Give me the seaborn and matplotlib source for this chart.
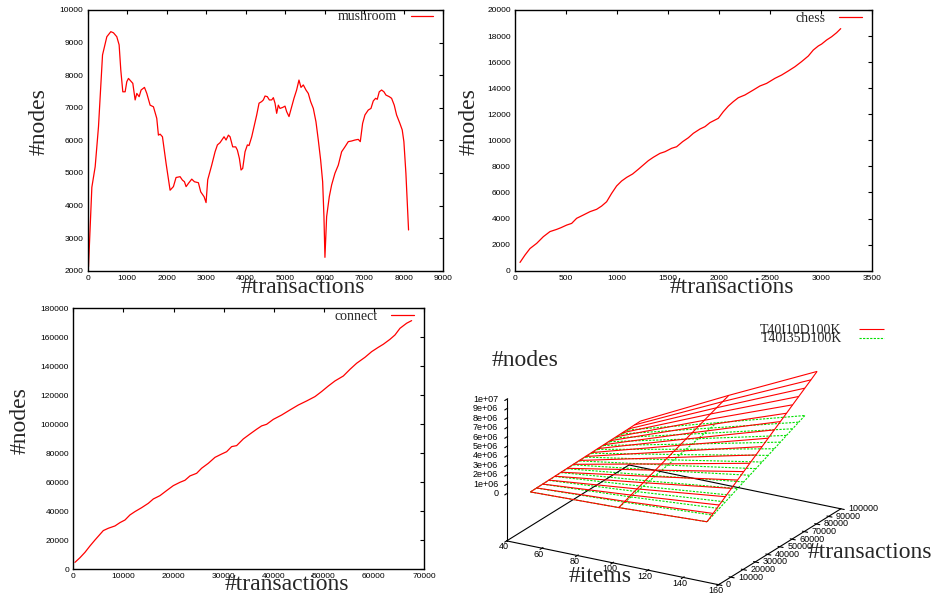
import numpy as np
import matplotlib
matplotlib.use("Agg")
import matplotlib.pyplot as plt
import seaborn as sns
from matplotlib.ticker import NullFormatter

# mushroom: #transactions vs #nodes
mushroom_tx = [25, 110, 194, 278, 380, 489, 590, 657, 741, 800,
               842, 893, 952, 994, 1036, 1146, 1205, 1247, 1306, 1356,
               1441, 1500, 1584, 1668, 1752, 1794, 1837, 1896, 1988, 2089,
               2173, 2240, 2342, 2401, 2452, 2494, 2553, 2637, 2705, 2805,
               2864, 2949, 2999, 3041, 3142, 3227, 3286, 3353, 3454, 3505,
               3564, 3606, 3673, 3749, 3791, 3842, 3884, 3926, 3985, 4044,
               4086, 4154, 4212, 4280, 4339, 4406, 4448, 4491, 4549, 4600,
               4659, 4701, 4743, 4785, 4827, 4869, 4937, 4996, 5038, 5097,
               5164, 5223, 5290, 5349, 5400, 5459, 5526, 5585, 5644, 5712,
               5779, 5838, 5897, 5948, 5981, 6006, 6049, 6116, 6175, 6259,
               6344, 6428, 6512, 6596, 6681, 6765, 6849, 6900, 6959, 7018,
               7102, 7170, 7229, 7288, 7330, 7380, 7439, 7498, 7549, 7633,
               7692, 7759, 7818, 7902, 7961, 8003, 8054, 8088, 8121]
mushroom_nodes = [2120, 4560, 5190, 6420, 8620, 9180, 9335, 9300, 9180, 8930,
                  8160, 7490, 7490, 7800, 7900, 7750, 7240, 7440, 7340, 7545,
                  7625, 7440, 7080, 7030, 6675, 6160, 6190, 6110, 5290, 4470,
                  4580, 4860, 4885, 4780, 4730, 4580, 4680, 4810, 4730, 4700,
                  4420, 4270, 4090, 4790, 5240, 5650, 5860, 5930, 6110, 6010,
                  6160, 6110, 5800, 5800, 5700, 5445, 5090, 5140, 5650, 5860,
                  5840, 6110, 6420, 6780, 7140, 7190, 7240, 7360, 7340, 7240,
                  7240, 7310, 7140, 6830, 7080, 6980, 7010, 7050, 6880, 6730,
                  7030, 7290, 7545, 7850, 7625, 7700, 7545, 7440, 7190, 6980,
                  6570, 6010, 5400, 4730, 3660, 2410, 3660, 4270, 4630, 4990,
                  5240, 5650, 5800, 5960, 5980, 6010, 6030, 5960, 6520, 6780,
                  6930, 6980, 7210, 7290, 7260, 7490, 7545, 7490, 7390, 7340,
                  7290, 7080, 6780, 6520, 6320, 5960, 4990, 4070, 3250]

# chess
chess_tx = [49, 98, 147, 213, 278, 343, 409, 451, 507, 556,
            605, 670, 736, 801, 850, 899, 948, 997, 1046, 1096,
            1154, 1210, 1259, 1308, 1357, 1422, 1472, 1537, 1586, 1645,
            1701, 1750, 1815, 1864, 1913, 1995, 2044, 2093, 2142, 2191,
            2256, 2338, 2403, 2469, 2551, 2616, 2681, 2747, 2812, 2878,
            2927, 2976, 3009, 3058, 3107, 3156, 3196]
chess_nodes = [635, 1200, 1700, 2100, 2610, 3000, 3170, 3300, 3500, 3630,
               4020, 4270, 4530, 4710, 4960, 5290, 5930, 6500, 6880, 7160,
               7420, 7780, 8110, 8440, 8700, 9000, 9130, 9390, 9510, 9900,
               10200, 10540, 10870, 11050, 11360, 11690, 12200, 12630, 12970, 13270,
               13480, 13860, 14170, 14370, 14760, 15010, 15320, 15650, 16040, 16470,
               16930, 17240, 17390, 17700, 17950, 18260, 18570]

# connect
connect_tx = [333, 1331, 2329, 3327, 4325, 5323, 5988, 6986, 8317, 9315,
              10313, 11311, 12309, 13640, 14970, 15968, 17299, 18629, 19960, 21291,
              22289, 23287, 24617, 25615, 26946, 28277, 29607, 30605, 31603, 32601,
              33932, 35263, 36593, 37591, 38589, 39920, 41583, 43247, 44910, 46574,
              48237, 49567, 50898, 52229, 53892, 55223, 56554, 58217, 59548, 60878,
              61876, 63207, 64205, 65203, 66534, 67532]
connect_nodes = [4800, 8000, 11700, 16100, 20200, 24100, 26700, 28300, 29900, 32200,
                 34000, 37500, 39800, 42500, 45500, 48500, 50800, 54300, 57700, 60000,
                 61400, 64400, 66200, 69700, 73100, 77200, 79500, 81100, 84600, 85300,
                 89900, 93300, 96600, 98900, 100000, 103400, 106400, 109900, 113300, 116100,
                 119100, 122600, 126400, 129900, 133300, 137900, 142100, 146200, 150100, 153100,
                 155200, 158600, 161600, 166200, 169700, 171500]

# synthetic data surfaces: #items x #transactions -> #nodes
surf_items = [50, 100, 150]
t10_tx = [5000, 10000, 15000, 20000, 25000, 30000, 35000, 40000, 45000, 50000,
          55000, 60000, 65000, 70000, 75000, 80000, 85000, 90000, 95000]
t10_nodes_50 = [0.17e6, 0.19e6, 0.20e6, 0.22e6, 0.23e6, 0.25e6, 0.26e6, 0.28e6, 0.29e6, 0.31e6,
                0.32e6, 0.34e6, 0.35e6, 0.37e6, 0.38e6, 0.40e6, 0.41e6, 0.43e6, 0.44e6]
t10_nodes_100 = [0.45e6, 0.71e6, 0.97e6, 1.22e6, 1.48e6, 1.74e6, 2.00e6, 2.26e6, 2.52e6, 2.78e6,
                 3.03e6, 3.29e6, 3.55e6, 3.81e6, 4.07e6, 4.33e6, 4.59e6, 4.84e6, 5.10e6]
t10_nodes_150 = [0.88e6, 1.36e6, 1.85e6, 2.33e6, 2.81e6, 3.29e6, 3.78e6, 4.26e6, 4.74e6, 5.22e6,
                 5.71e6, 6.19e6, 6.67e6, 7.15e6, 7.64e6, 8.12e6, 8.60e6, 9.08e6, 9.57e6]
t35_tx = [5000, 10000, 15000, 20000, 25000, 30000, 35000, 40000, 45000, 50000,
          55000, 60000, 65000, 70000, 75000, 80000, 85000]
t35_nodes_50 = [0.17e6, 0.18e6, 0.19e6, 0.19e6, 0.20e6, 0.21e6, 0.22e6, 0.23e6, 0.24e6,
                0.24e6, 0.25e6, 0.26e6, 0.27e6, 0.27e6, 0.28e6, 0.29e6, 0.30e6]
t35_nodes_100 = [0.45e6, 0.61e6, 0.77e6, 0.93e6, 1.09e6, 1.25e6, 1.41e6, 1.57e6, 1.73e6,
                 1.88e6, 2.04e6, 2.20e6, 2.36e6, 2.52e6, 2.68e6, 2.84e6, 3.00e6]
t35_nodes_150 = [0.88e6, 1.18e6, 1.48e6, 1.78e6, 2.08e6, 2.39e6, 2.69e6, 2.99e6, 3.29e6,
                 3.59e6, 3.89e6, 4.19e6, 4.49e6, 4.80e6, 5.10e6, 5.40e6, 5.70e6]


sns.set_style("white")
plt.rcParams['font.family'] = ['Liberation Sans', 'DejaVu Sans']
plt.rcParams['axes.linewidth'] = 1.0
plt.rcParams['axes.edgecolor'] = 'black'

W, H = 936, 598
fig = plt.figure(figsize=(W / 100, H / 100), dpi=100)
SERIF = ['Liberation Serif', 'DejaVu Serif']


def px_axes(l, t, r, b, **kw):
    return fig.add_axes([l / W, 1 - b / H, (r - l) / W, (b - t) / H], **kw)


def panel(box, x, y, name, xticks, yticks, xlab_c, ylab_c, leg_y):
    l, t, r, b = box
    w, h = r - l, b - t
    ax = px_axes(l, t, r, b)
    sns.lineplot(x=x, y=y, ax=ax, color='red', linewidth=0.9, label=name,
                 estimator=None, sort=False)
    ax.set_xlim(xticks[0], xticks[-1])
    ax.set_ylim(yticks[0], yticks[-1])
    ax.set_xticks(xticks)
    ax.set_yticks(yticks)
    ax.tick_params(direction='in', top=True, right=True, length=3, width=0.8,
                   labelsize=6, pad=3, colors='black')
    ax.set_xlabel('#transactions', fontfamily=SERIF, fontsize=17)
    ax.xaxis.label.set_va('center')
    ax.xaxis.set_label_coords((xlab_c[0] - l) / w, (b - xlab_c[1]) / h)
    ax.set_ylabel('#nodes', fontfamily=SERIF, fontsize=17)
    ax.yaxis.label.set_va('center')
    ax.yaxis.set_label_coords((ylab_c[0] - l) / w, (b - ylab_c[1]) / h)
    ax.legend(loc='center right', bbox_to_anchor=((r - 10 - l) / w, (b - leg_y) / h),
              frameon=False, markerfirst=False, prop={'family': SERIF, 'size': 10},
              handlelength=1.63, handletextpad=0.98, borderpad=0, borderaxespad=0)
    return ax


panel((87.5, 10, 443.3, 270.7), mushroom_tx, mushroom_nodes, 'mushroom',
      np.arange(0, 9001, 1000), np.arange(2000, 10001, 1000), (303, 287), (39, 122), 17)
panel((515, 10, 871.7, 270.7), chess_tx, chess_nodes, 'chess',
      np.arange(0, 3501, 500), np.arange(0, 20001, 2000), (732, 287), (469, 122), 18)
panel((73.3, 308.3, 424, 569.3), connect_tx, connect_nodes, 'connect',
      np.arange(0, 70001, 10000), np.arange(0, 180001, 20000), (287, 585), (20, 421), 316)

# ---- 3D panel ----
ax3 = fig.add_axes([0.5, 0.02, 0.48, 0.45], projection='3d')
ax3.set_facecolor('none')
ax3.set_proj_type('ortho')
ax3.view_init(elev=21, azim=-60)
ax3.set_box_aspect((1, 1, 0.62))

I10, T10 = np.meshgrid(surf_items, t10_tx, indexing='ij')
Z10 = np.array([t10_nodes_50, t10_nodes_100, t10_nodes_150])
I35, T35 = np.meshgrid(surf_items, t35_tx, indexing='ij')
Z35 = np.array([t35_nodes_50, t35_nodes_100, t35_nodes_150])
ax3.plot_wireframe(I35, T35, Z35, color='#00e000', linewidth=0.8,
                   linestyle=(0, (2, 1.2)), label='T40I35D100K')
ax3.plot_wireframe(I10, T10, Z10, color='red', linewidth=0.8, label='T40I10D100K')

xmin, xmax, ymin, ymax, zbase, ztop = 40, 160, 0, 100000, -5e6, 1e7
item_ticks = np.arange(40, 161, 20)
tx_ticks = np.arange(0, 100001, 10000)
node_ticks = np.arange(0, 1e7 + 1, 1e6)
ax3.set_xlim(xmin, xmax)
ax3.set_ylim(ymin, ymax)
ax3.set_zlim(zbase, ztop)
ax3.set_xticks(item_ticks)
ax3.set_yticks(tx_ticks)
ax3.set_zticks(node_ticks)
ax3.zaxis.set_ticks_position('lower')
ax3.grid(False)
for a in (ax3.xaxis, ax3.yaxis, ax3.zaxis):
    a.set_major_formatter(NullFormatter())
    a.set_pane_color((1, 1, 1, 0))
    a.pane.set_edgecolor((1, 1, 1, 0))
    a.line.set_color('black')
    a.line.set_linewidth(0.8)
ax3.tick_params(colors='black')
# remaining base edges
ax3.plot([xmin, xmin], [ymin, ymax], [zbase, zbase], color='black', linewidth=0.8)
ax3.plot([xmin, xmax], [ymax, ymax], [zbase, zbase], color='black', linewidth=0.8)

handles, labels = ax3.get_legend_handles_labels()
ax3.legend(handles[::-1], labels[::-1], loc='upper right',
           bbox_to_anchor=(884 / W, 1 - 324 / H), bbox_transform=fig.transFigure,
           frameon=False, markerfirst=False, prop={'family': SERIF, 'size': 10},
           handlelength=1.8, handletextpad=1.25, borderpad=0, borderaxespad=0,
           labelspacing=-0.33)


def to_px(ax, p):
    M = ax.get_proj()
    v = M @ np.array([p[0], p[1], p[2], 1.0])
    return ax.transData.transform((v[0] / v[3], v[1] / v[3]))


# fit the 3D box so the z-axis top and front-right base corner land in place
A3, At = (xmin, ymin, ztop), np.array([506.7, H - 399.3])
B3, Bt = (xmax, ymin, zbase), np.array([718.3, H - 585.0])
for _ in range(3):
    fig.canvas.draw()
    a, b = to_px(ax3, A3), to_px(ax3, B3)
    s = np.hypot(*(Bt - At)) / np.hypot(*(b - a))
    pos = ax3.get_position(original=True)
    x0, y0 = pos.x0 * W, pos.y0 * H
    nx0 = At[0] + s * (x0 - a[0])
    ny0 = At[1] + s * (y0 - a[1])
    ax3.set_position([nx0 / W, ny0 / H, s * pos.width, s * pos.height])
fig.canvas.draw()

# gnuplot-like tick labels placed through the 3D projection
tick_font = dict(fontsize=6.5, color='black')
for v in node_ticks:
    px, py = to_px(ax3, (xmin, ymin, v))
    fig.text((px - 8.5) / W, py / H, '0' if v == 0 else f'{v:.0e}',
             ha='right', va='center', **tick_font)
for v in item_ticks:
    px, py = to_px(ax3, (v, ymin, zbase))
    fig.text((px - 3) / W, (py - 1.5) / H, f'{v:d}', ha='center', va='top', **tick_font)
for v in tx_ticks:
    px, py = to_px(ax3, (xmax, v, zbase))
    fig.text((px + 7.5) / W, py / H, f'{v:d}', ha='left', va='center', **tick_font)

fig.text(525 / W, 1 - 360 / H, '#nodes', family=SERIF, fontsize=17, ha='center', va='center')
fig.text(600 / W, 1 - 576 / H, '#items', family=SERIF, fontsize=17, ha='center', va='center')
fig.text(808 / W, 1 - 553 / H, '#transactions', family=SERIF, fontsize=17, ha='left', va='center')

fig.savefig('out.png', dpi=100)
